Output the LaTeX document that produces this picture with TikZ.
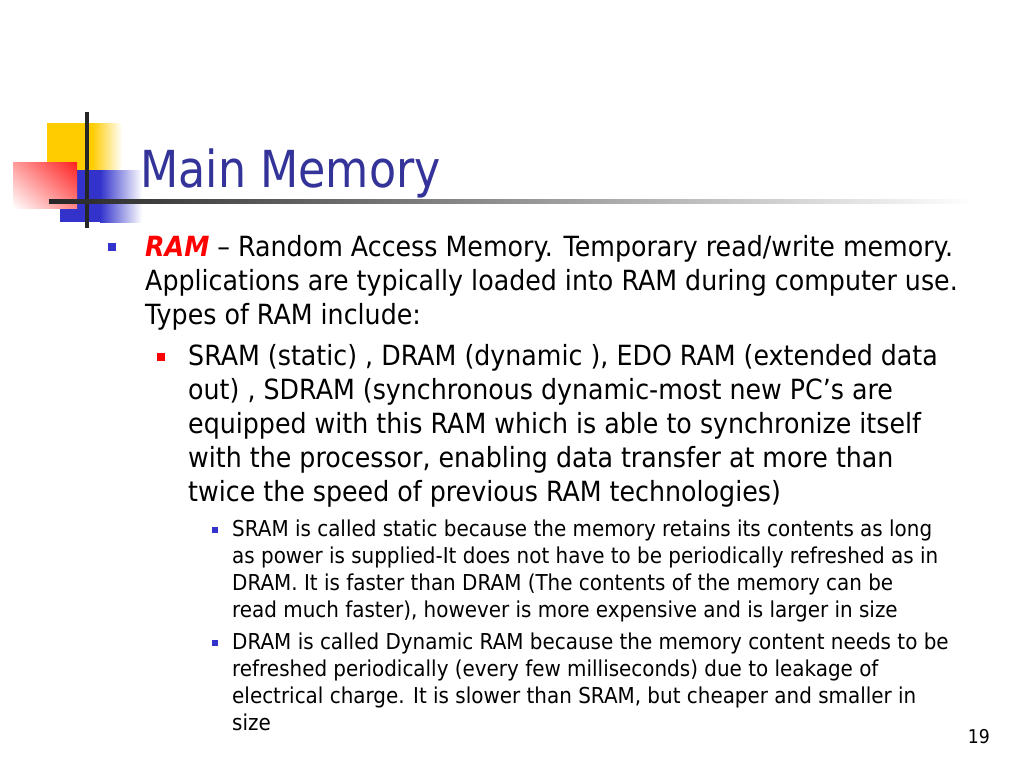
\documentclass[tikz,border=0pt]{standalone}
\usepackage{fontspec}
\setmainfont{DejaVu Sans}[FakeStretch=0.91]
\newfontfamily\titlefont{DejaVu Sans}[FakeStretch=0.87]
\usetikzlibrary{positioning,shadings}
\definecolor{titleblue}{HTML}{333399}
\definecolor{markblue}{HTML}{3333CC}
\definecolor{decoyellow}{HTML}{FFCC00}
\definecolor{decored}{HTML}{FF2020}
\begin{document}
\begin{tikzpicture}[x=1pt, y=-1pt,
		para/.style={anchor=base west, inner sep=0pt, align=left},
		lvla/.style={para, font=\fontsize{27.8}{34}\selectfont},
		lvlc/.style={para, font=\fontsize{21.9}{27}\selectfont},
		bullet/.style={fill=#1, minimum size=8pt, inner sep=0pt}]
				\useasboundingbox[fill=white] (0,0) rectangle (1024,768);
				% corner squares
				\fill[decoyellow] (47,123) rectangle (92,172);
				\shade[left color=decoyellow, right color=white] (92,123) rectangle (122,172);
				\fill[markblue] (60,170) rectangle (100,222);
				\shade[left color=markblue, right color=white] (100,170) rectangle (142,222);
				\shade[upper right=decored, lower left=white, upper left=decored!45, lower right=decored!55] (13,162) rectangle (77,208);
				\draw[line width=3.5pt, black!85] (87,112) -- (87,228);
				\shade[left color=black!85, middle color=black!35, right color=white] (49,199) rectangle (975,203);
				% title and text (base = last line)
				\node[para, font=\titlefont\fontsize{51}{51}\selectfont, text=titleblue] (title) at (140,187) {Main Memory};
				\node[bullet=markblue] (b1) at (112,247) {};
				\node[lvla] (ram) at (145,324) {\textcolor{red}{\textbf{\textit{RAM}}} – Random Access Memory. Temporary read/write memory.\\
					Applications are typically loaded into RAM during computer use.\\
					Types of RAM include:};
				\node[bullet=red] (b2) at (161,357) {};
				\node[lvla] (types) at (188,501) {SRAM (static) , DRAM (dynamic ), EDO RAM (extended data\\
					out) , SDRAM (synchronous dynamic-most new PC’s are\\
					equipped with this RAM which is able to synchronize itself\\
					with the processor, enabling data transfer at more than\\
					twice the speed of previous RAM technologies)};
				\node[bullet=markblue, minimum size=6pt] (b3) at (215,530) {};
				\node[lvlc] (sram) at (232,617) {SRAM is called static because the memory retains its contents as long\\
					as power is supplied-It does not have to be periodically refreshed as in\\
					DRAM. It is faster than DRAM (The contents of the memory can be\\
					read much faster), however is more expensive and is larger in size};
				\node[bullet=markblue, minimum size=6pt] (b4) at (215,643) {};
				\node[lvlc] (dram) at (232,730) {DRAM is called Dynamic RAM because the memory content needs to be\\
					refreshed periodically (every few milliseconds) due to leakage of\\
					electrical charge. It is slower than SRAM, but cheaper and smaller in\\
					size};
				\node[anchor=base east, inner sep=0pt, font=\fontsize{19}{19}\selectfont] (page) at (990,743) {19};
			\end{tikzpicture}
\end{document}
